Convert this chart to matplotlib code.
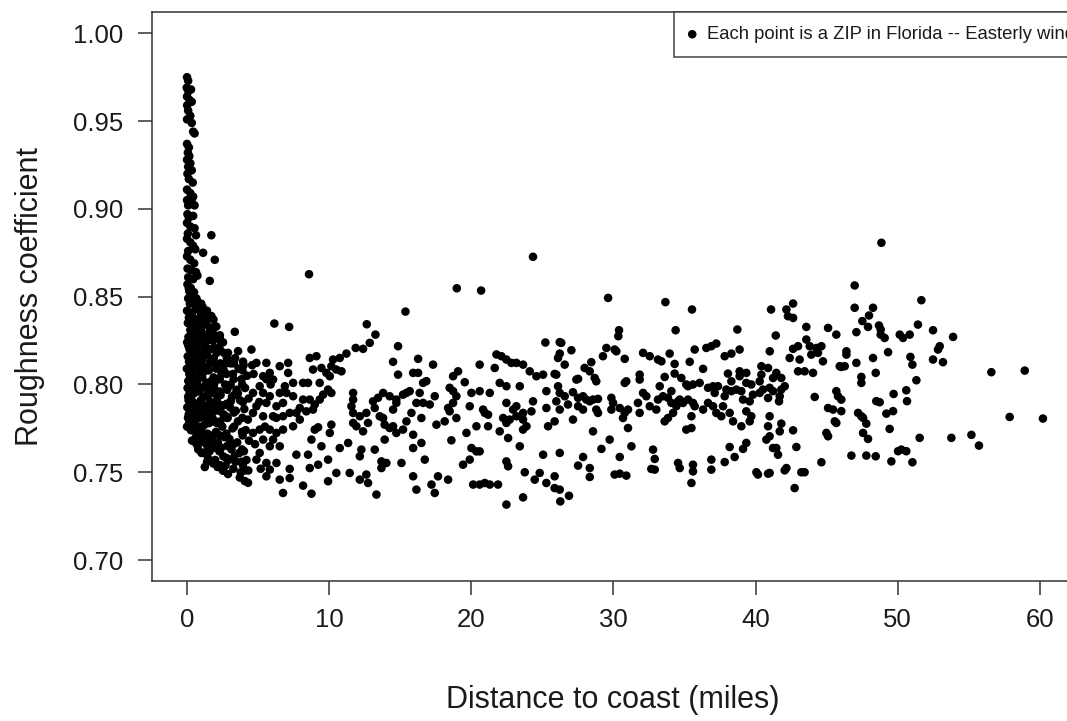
import numpy as np
import matplotlib
matplotlib.use('Agg')
import matplotlib.pyplot as plt

# (distance to coast in miles, roughness coefficient)
# narrow spike right on the coast
spike = np.array([
    (0.02,0.975),(0.10,0.973),(0.00,0.969),(0.12,0.967),(0.30,0.968),(0.02,0.964),(0.20,0.962),
    (0.35,0.961),(0.03,0.959),(0.10,0.956),(0.25,0.953),(0.02,0.951),(0.35,0.949),(0.45,0.944),
    (0.55,0.943),(0.02,0.937),(0.15,0.935),(0.08,0.932),(0.18,0.930),(0.02,0.928),(0.25,0.926),
    (0.10,0.924),(0.35,0.922),(0.05,0.920),(0.15,0.917),(0.42,0.915),(0.02,0.911),(0.25,0.909),
    (0.45,0.907),(0.02,0.905),(0.35,0.904),(0.10,0.902),(0.55,0.902),(0.05,0.897),(0.15,0.895),
    (0.45,0.896),(0.02,0.892),(0.25,0.890),(0.55,0.889),(0.08,0.886),(0.65,0.885),(0.02,0.883),
    (0.25,0.881),(0.45,0.879),(0.10,0.876),(0.60,0.877),(0.02,0.873),(0.25,0.871),(0.52,0.869),
    (0.06,0.866),(0.35,0.865),(0.65,0.864),(0.10,0.861),(0.45,0.860),(0.75,0.862),
    (1.73,0.885),(1.15,0.875),(1.97,0.871),(1.62,0.859),
])

# dense cloud 0 - 4.4 miles
coastal = np.array([
    (0.05,0.857),(0.18,0.853),(0.10,0.849),(0.22,0.846),(0.02,0.842),(0.15,0.838),(0.08,0.835),
    (0.25,0.831),(0.12,0.827),(0.03,0.824),(0.20,0.820),(0.07,0.816),(0.16,0.813),(0.01,0.809),
    (0.24,0.805),(0.11,0.802),(0.06,0.798),(0.19,0.794),(0.13,0.791),(0.04,0.787),(0.22,0.784),
    (0.09,0.781),(0.17,0.778),(0.02,0.776),(0.14,0.783),(0.21,0.795),
    (0.42,0.851),(0.55,0.846),(0.38,0.841),(0.61,0.837),(0.47,0.832),(0.36,0.828),(0.58,0.823),
    (0.44,0.818),(0.63,0.814),(0.50,0.809),(0.39,0.805),(0.57,0.800),(0.45,0.796),(0.35,0.791),
    (0.60,0.787),(0.48,0.782),(0.53,0.778),(0.41,0.774),(0.64,0.770),(0.37,0.768),(0.52,0.795),
    (0.46,0.826),
    (0.78,0.847),(0.92,0.842),(0.71,0.837),(0.85,0.832),(0.97,0.827),(0.74,0.822),(0.88,0.817),
    (0.80,0.812),(0.95,0.806),(0.72,0.801),(0.86,0.796),(0.99,0.791),(0.76,0.786),(0.90,0.781),
    (0.83,0.776),(0.73,0.771),(0.94,0.767),(0.81,0.763),(0.87,0.808),(0.77,0.829),
    (1.12,0.844),(1.30,0.838),(1.06,0.833),(1.22,0.827),(1.38,0.821),(1.15,0.816),(1.27,0.810),
    (1.09,0.804),(1.35,0.799),(1.19,0.793),(1.05,0.788),(1.32,0.782),(1.24,0.777),(1.10,0.771),
    (1.37,0.766),(1.17,0.761),(1.29,0.799),(1.08,0.814),
    (1.52,0.838),(1.70,0.832),(1.47,0.826),(1.63,0.820),(1.80,0.814),(1.55,0.808),(1.74,0.802),
    (1.49,0.796),(1.66,0.790),(1.83,0.784),(1.58,0.778),(1.45,0.772),(1.77,0.767),(1.61,0.762),
    (1.50,0.758),(1.72,0.795),(1.85,0.825),
    (1.95,0.833),(2.15,0.827),(2.28,0.821),(1.90,0.815),(2.08,0.809),(2.22,0.803),(1.98,0.797),
    (2.12,0.791),(2.26,0.785),(1.93,0.779),(2.05,0.773),(2.19,0.767),(2.30,0.762),(2.00,0.757),
    (2.17,0.753),(1.92,0.800),
    (2.40,0.824),(2.62,0.818),(2.78,0.812),(2.45,0.806),(2.70,0.800),(2.38,0.794),(2.55,0.788),
    (2.75,0.782),(2.50,0.776),(2.66,0.770),(2.42,0.764),(2.58,0.759),(2.73,0.754),(2.47,0.788),
    (2.55,0.751),
    (2.90,0.818),(3.10,0.812),(3.25,0.806),(2.95,0.799),(3.18,0.793),(3.05,0.787),(2.88,0.781),
    (3.22,0.775),(3.00,0.769),(3.15,0.763),(2.92,0.757),(3.28,0.752),(3.08,0.800),
    (3.40,0.815),(3.65,0.809),(3.85,0.803),(3.50,0.797),(3.75,0.791),(3.45,0.785),(3.60,0.779),
    (3.88,0.773),(3.55,0.767),(3.70,0.761),(3.42,0.756),(3.80,0.750),(3.73,0.747),
    (4.00,0.811),(4.25,0.805),(4.10,0.798),(4.35,0.792),(4.05,0.786),(4.30,0.780),(4.15,0.774),
    (4.38,0.768),(4.02,0.762),(4.20,0.757),(4.33,0.751),(4.08,0.745),
    (1.27,0.753),(2.55,0.751),(2.90,0.749),(3.84,0.756),(4.08,0.751),(4.31,0.744),(3.38,0.830),
    (2.08,0.833),(2.32,0.827),(2.55,0.824),(3.61,0.819),(3.96,0.813),(1.15,0.842),(1.73,0.839),
])

# more points of the same cloud, between the ones above
coastal_more = np.array([
    (0.28,0.855),(0.31,0.848),(0.27,0.840),(0.33,0.833),(0.29,0.826),(0.32,0.818),(0.26,0.811),
    (0.30,0.803),(0.34,0.796),(0.28,0.789),(0.31,0.781),(0.29,0.774),
    (0.68,0.849),(0.66,0.843),(0.70,0.835),(0.67,0.827),(0.69,0.820),(0.65,0.812),(0.70,0.804),
    (0.66,0.797),(0.68,0.789),(0.71,0.782),(0.67,0.774),(0.69,0.766),
    (1.02,0.846),(0.99,0.839),(1.03,0.830),(1.00,0.823),(1.04,0.814),(0.98,0.806),(1.02,0.798),
    (1.01,0.790),(0.97,0.783),(1.03,0.775),(1.00,0.768),(1.04,0.761),
    (1.42,0.842),(1.40,0.834),(1.44,0.825),(1.41,0.817),(1.43,0.809),(1.39,0.801),(1.45,0.793),
    (1.42,0.786),(1.40,0.779),(1.44,0.770),(1.41,0.762),(1.43,0.756),
    (1.88,0.837),(1.86,0.829),(1.90,0.821),(1.87,0.812),(1.89,0.804),(1.85,0.796),(1.91,0.788),
    (1.88,0.780),(1.86,0.771),(1.90,0.764),(1.87,0.755),
    (2.33,0.828),(2.31,0.820),(2.35,0.812),(2.32,0.803),(2.34,0.796),(2.30,0.786),(2.36,0.779),
    (2.33,0.771),(2.31,0.762),(2.35,0.754),
    (2.82,0.815),(2.80,0.806),(2.84,0.797),(2.81,0.789),(2.83,0.781),(2.79,0.772),(2.85,0.765),
    (2.82,0.758),
    (3.32,0.812),(3.30,0.803),(3.34,0.794),(3.31,0.784),(3.33,0.776),(3.29,0.766),(3.35,0.759),
    (3.92,0.808),(3.90,0.800),(3.94,0.790),(3.91,0.781),(3.93,0.771),(3.89,0.763),(3.95,0.754),
    (4.70,0.806),(5.10,0.790),(5.50,0.776),(4.80,0.766),(5.90,0.800),(6.30,0.781),(5.20,0.752),
    (6.90,0.799),(4.60,0.811),(5.60,0.803),
    (0.15,0.8545),(0.52,0.8525),(0.88,0.8445),(0.20,0.8385),(0.55,0.8340),(0.90,0.8285),
    (0.12,0.8220),(0.50,0.8160),(0.85,0.8100),(0.18,0.8060),(0.45,0.8020),(0.80,0.7990),
    (0.10,0.7930),(0.55,0.7885),(0.92,0.7850),(0.20,0.7800),(0.58,0.7745),(0.85,0.7700),
    (1.20,0.8350),(1.25,0.8195),(1.18,0.8070),(1.22,0.7880),(1.25,0.7715),(1.60,0.8300),
    (1.65,0.8130),(1.62,0.7990),(1.60,0.7830),(1.65,0.7680),(2.10,0.8180),(2.05,0.7945),
    (2.12,0.7780),(2.60,0.8080),(2.58,0.7830),(3.10,0.7905),(3.60,0.7950),
])

# 4.4 - 25.5 miles
inland = np.array([
    (8.60,0.8628),(24.35,0.8727),(18.99,0.8548),(20.70,0.8535),(15.38,0.8415),(6.16,0.8347),
    (7.20,0.8328),(12.66,0.8343),(13.27,0.8284),(25.22,0.8239),(14.86,0.8218),(12.87,0.8237),
    (12.40,0.8203),(11.88,0.8208),(11.23,0.8176),(10.76,0.8151),(10.29,0.8142),(9.12,0.8161),
    (8.65,0.8151),(8.88,0.8085),(9.47,0.8094),(9.82,0.8066),(10.17,0.8104),(10.52,0.8085),
    (10.88,0.8075),(10.06,0.8047),(9.94,0.7971),(10.17,0.7952),(9.59,0.7942),(9.35,0.7914),
    (9.00,0.7886),(8.65,0.7914),(8.18,0.7914),(7.95,0.7866),(8.41,0.7847),(8.88,0.7857),
    (8.53,0.8009),(8.18,0.8009),(9.35,0.8009),(7.48,0.8009),(7.13,0.8066),(7.13,0.8123),
    (6.54,0.8104),(5.60,0.8123),(4.90,0.8123),(4.55,0.8199),(5.84,0.8066),(5.37,0.8047),
    (6.07,0.8028),(5.13,0.7990),(4.66,0.7952),(5.37,0.7952),(5.84,0.7933),(6.54,0.7952),
    (7.01,0.7952),(7.48,0.7933),(6.77,0.7895),(6.31,0.7876),(5.60,0.7895),(4.90,0.7876),
    (4.66,0.7838),(5.37,0.7819),(6.07,0.7819),(6.77,0.7819),(7.24,0.7838),(7.71,0.7838),
    (7.95,0.7800),(7.48,0.7762),(6.77,0.7743),(6.31,0.7724),(5.84,0.7743),(5.13,0.7743),
    (4.66,0.7724),(5.37,0.7686),(6.07,0.7686),(6.54,0.7648),(5.84,0.7648),(5.13,0.7610),
    (4.90,0.7572),(5.60,0.7553),(6.31,0.7553),(5.84,0.7515),(5.60,0.7477),(6.54,0.7458),
    (7.24,0.7467),(6.77,0.7382),(8.18,0.7424),(8.77,0.7378),(7.24,0.7519),(7.71,0.7600),
    (8.53,0.7600),(8.65,0.7524),(9.24,0.7543),(9.94,0.7572),(9.00,0.7743),(8.77,0.7686),
    (9.47,0.7648),(10.06,0.7724),(10.17,0.7771),(9.24,0.7756),(10.76,0.7638),(11.35,0.7667),
    (10.52,0.7496),(11.46,0.7496),(9.94,0.7449),(12.17,0.7458),(12.75,0.7439),(13.34,0.7373),
    (12.63,0.7487),(12.17,0.7591),(12.28,0.7629),(13.22,0.7629),(13.69,0.7562),(14.04,0.7553),
    (13.69,0.7524),(15.10,0.7553),(14.74,0.7724),(13.92,0.7686),(14.27,0.7752),(13.92,0.7771),
    (14.51,0.7762),(15.45,0.7790),(15.21,0.7743),(15.92,0.7714),(16.50,0.7667),(15.92,0.7638),
    (16.74,0.7572),(15.92,0.7477),(16.15,0.7401),(17.21,0.7430),(17.44,0.7382),(17.67,0.7477),
    (18.38,0.7458),(19.43,0.7543),(19.90,0.7572),(20.14,0.7430),(20.60,0.7430),(20.96,0.7439),
    (21.31,0.7430),(21.89,0.7430),(22.48,0.7316),(23.65,0.7357),(23.77,0.7500),(24.47,0.7458),
    (24.82,0.7496),(25.29,0.7439),(25.06,0.7600),(23.42,0.7648),(22.60,0.7695),(22.48,0.7562),
    (22.60,0.7534),(20.02,0.7638),(20.37,0.7619),(20.60,0.7619),(18.61,0.7682),(19.67,0.7724),
    (20.37,0.7762),(21.19,0.7762),(22.01,0.7733),(22.48,0.7781),(22.71,0.7800),(23.18,0.7819),
    (23.65,0.7800),(23.89,0.7762),(23.65,0.7743),(22.25,0.7809),(22.95,0.7857),(23.18,0.7876),
    (22.48,0.7895),(23.65,0.7838),(24.35,0.7904),(24.24,0.7847),(25.29,0.7866),(25.29,0.7962),
    (25.41,0.7762),(25.06,0.8056),(24.59,0.8047),(24.12,0.8075),(23.65,0.8113),(23.18,0.8123),
    (22.83,0.8123),(22.48,0.8142),(22.13,0.8161),(21.78,0.8171),(21.66,0.8094),(22.01,0.8009),
    (22.48,0.7990),(23.42,0.7990),(21.31,0.7952),(20.60,0.7962),(20.02,0.7952),(19.90,0.7876),
    (20.84,0.7857),(20.96,0.7838),(21.19,0.7828),(20.60,0.8113),(19.55,0.8013),(19.08,0.8075),
    (18.73,0.8047),(18.49,0.7981),(18.73,0.7962),(18.96,0.7933),(18.38,0.7866),(18.73,0.7895),
    (18.96,0.7809),(17.44,0.7933),(17.09,0.7886),(16.62,0.7895),(16.15,0.7895),(16.38,0.7952),
    (16.85,0.8019),(16.62,0.8009),(16.27,0.8066),(15.92,0.8066),(15.45,0.7952),(15.68,0.7962),
    (15.21,0.7942),(14.74,0.7914),(14.27,0.7933),(13.81,0.7952),(13.45,0.7924),(13.10,0.7904),
    (13.22,0.7866),(12.63,0.7838),(12.17,0.7819),(11.70,0.7838),(11.70,0.7914),(11.70,0.7952),
    (11.58,0.7876),(11.70,0.7781),(11.93,0.7762),(12.40,0.7733),(12.75,0.7781),(13.57,0.7819),
    (13.81,0.7809),(14.51,0.7857),(14.74,0.7895),(14.86,0.8056),(14.51,0.8129),(16.27,0.8146),
    (17.32,0.8113),(15.80,0.7838),(16.50,0.7809),(17.56,0.7771),(18.14,0.7790),(18.49,0.7847),
])

# 25.5 - 46 miles
central = np.array([
    (29.63,0.8493),(33.66,0.8469),(35.53,0.8427),(41.09,0.8427),(42.17,0.8427),(42.64,0.8461),
    (42.28,0.8389),(42.64,0.8379),(43.57,0.8328),(45.10,0.8322),(45.68,0.8284),(41.42,0.8279),
    (30.40,0.8309),(30.35,0.8275),(34.38,0.8309),(38.72,0.8313),(26.23,0.8241),(26.34,0.8237),
    (27.05,0.8195),(26.23,0.8176),(26.11,0.8151),(26.58,0.8113),(28.45,0.8127),(27.98,0.8094),
    (28.34,0.8075),(28.69,0.8037),(28.80,0.8018),(29.27,0.8161),(29.51,0.8208),(30.09,0.8199),
    (30.21,0.8189),(30.80,0.8146),(32.09,0.8180),(32.56,0.8161),(33.14,0.8142),(33.38,0.8132),
    (33.96,0.8176),(34.31,0.8117),(35.37,0.8129),(35.72,0.8199),(36.54,0.8208),(36.89,0.8218),
    (37.24,0.8233),(37.83,0.8161),(38.30,0.8176),(38.88,0.8199),(41.00,0.8189),(42.64,0.8203),
    (42.99,0.8218),(43.57,0.8256),(43.81,0.8218),(44.28,0.8208),(44.63,0.8218),(44.39,0.8180),
    (43.92,0.8170),(43.10,0.8142),(42.40,0.8151),(44.74,0.8132),(42.99,0.8075),(43.45,0.8075),
    (44.04,0.8066),(40.88,0.8094),(40.41,0.8104),(41.46,0.8066),(40.41,0.8056),(41.23,0.8037),
    (41.81,0.8037),(42.05,0.7990),(41.81,0.7971),(41.70,0.7933),(41.65,0.7904),(40.88,0.7923),
    (40.29,0.8018),(39.70,0.8000),(38.88,0.8075),(39.35,0.8066),(38.88,0.8047),(39.35,0.8009),
    (38.06,0.8062),(36.31,0.8089),(35.25,0.7990),(34.78,0.8037),(34.31,0.8062),(33.61,0.8043),
    (33.26,0.7990),(31.85,0.8056),(31.85,0.8028),(30.80,0.8009),(30.91,0.8018),(27.40,0.8028),
    (27.52,0.8032),(25.87,0.8060),(25.99,0.8056),(26.11,0.7990),(26.23,0.7952),(25.99,0.7904),
    (26.58,0.7933),(27.16,0.7956),(27.52,0.7924),(27.87,0.7933),(28.10,0.7914),(28.34,0.7904),
    (28.57,0.7914),(28.92,0.7918),(28.80,0.7857),(28.92,0.7838),(27.87,0.7857),(27.52,0.7876),
    (26.81,0.7886),(26.23,0.7857),(27.16,0.7800),(25.87,0.7790),(29.86,0.7924),(29.98,0.7895),
    (29.86,0.7857),(30.45,0.7866),(30.80,0.7838),(31.03,0.7857),(30.68,0.7809),(31.73,0.7895),
    (31.85,0.7838),(32.09,0.7952),(32.32,0.7933),(32.56,0.7876),(33.02,0.7857),(33.14,0.7914),
    (33.49,0.7933),(33.84,0.7924),(34.08,0.7895),(34.43,0.7876),(34.20,0.7838),(33.84,0.7809),
    (33.61,0.7790),(34.55,0.7904),(34.90,0.7895),(35.25,0.7914),(35.60,0.7895),(35.72,0.7876),
    (35.49,0.7819),(36.31,0.7857),(36.66,0.7895),(37.01,0.7876),(37.24,0.7838),(37.59,0.7819),
    (37.71,0.7876),(37.83,0.7933),(37.95,0.7971),(38.30,0.7962),(38.65,0.7971),(39.00,0.7962),
    (39.12,0.7914),(39.59,0.7904),(39.82,0.7942),(40.29,0.7952),(40.52,0.7971),(40.99,0.7981),
    (41.23,0.7962),(39.35,0.7847),(39.70,0.7819),(39.59,0.7790),(39.00,0.7762),(38.42,0.7790),
    (38.18,0.7838),(36.66,0.7981),(37.01,0.7990),(37.36,0.7990),(36.07,0.8009),(35.60,0.8000),
    (35.13,0.8000),(34.67,0.7914),(34.08,0.7962),(37.13,0.7952),(38.30,0.8018),(28.57,0.7733),
    (29.74,0.7686),(29.16,0.7633),(27.87,0.7587),(27.52,0.7538),(28.34,0.7524),(28.34,0.7473),
    (26.23,0.7610),(25.87,0.7477),(25.87,0.7410),(26.23,0.7401),(26.27,0.7334),(26.88,0.7366),
    (31.27,0.7648),(31.03,0.7752),(30.45,0.7587),(30.09,0.7487),(30.45,0.7492),(30.91,0.7481),
    (32.79,0.7629),(32.91,0.7576),(32.67,0.7519),(32.91,0.7515),(34.55,0.7553),(34.67,0.7524),
    (35.60,0.7543),(35.60,0.7505),(35.49,0.7439),(35.13,0.7743),(35.49,0.7752),(36.89,0.7572),
    (36.89,0.7515),(38.18,0.7644),(37.83,0.7558),(38.53,0.7587),(39.12,0.7633),(39.35,0.7667),
    (40.06,0.7500),(40.17,0.7487),(40.88,0.7492),(40.99,0.7496),(42.05,0.7511),(42.17,0.7524),
    (43.22,0.7500),(43.45,0.7500),(42.75,0.7410),(44.63,0.7557),(42.87,0.7644),(42.64,0.7739),
    (41.70,0.7733),(41.81,0.7777),(41.46,0.7638),(41.58,0.7600),(41.23,0.7638),(40.99,0.7705),
    (40.76,0.7686),(40.88,0.7762),(40.99,0.7819),(44.98,0.7724),(45.10,0.7705),(45.10,0.7866),
    (45.45,0.7857),(45.57,0.7790),(45.68,0.7781),(45.80,0.7933),(45.68,0.7962),(44.16,0.7929),
    (45.92,0.8104),
])

# beyond 46 miles
interior = np.array([
    (48.85,0.8807),(46.97,0.8564),(51.66,0.8480),(46.97,0.8437),(48.26,0.8437),(47.98,0.8393),
    (47.51,0.8361),(47.91,0.8328),(48.68,0.8336),(48.80,0.8313),(47.09,0.8298),(48.80,0.8284),
    (49.08,0.8265),(50.14,0.8284),(50.37,0.8265),(50.84,0.8284),(51.42,0.8341),(52.48,0.8309),
    (53.89,0.8271),(52.95,0.8218),(52.83,0.8199),(52.48,0.8142),(53.18,0.8127),(49.32,0.8184),
    (48.26,0.8151),(50.89,0.8157),(51.03,0.8113),(51.31,0.8024),(47.09,0.8123),(46.39,0.8189),
    (46.39,0.8170),(46.27,0.8104),(46.03,0.8100),(47.44,0.8043),(47.44,0.8009),(48.45,0.8066),
    (49.71,0.7946),(50.60,0.7967),(50.65,0.7905),(48.49,0.7905),(48.73,0.7899),(49.20,0.7834),
    (49.67,0.7848),(47.21,0.7838),(47.44,0.7819),(47.56,0.7810),(47.79,0.7777),(49.43,0.7747),
    (47.56,0.7724),(47.91,0.7690),(46.74,0.7595),(47.79,0.7595),(48.45,0.7591),(50.02,0.7620),
    (50.25,0.7629),(50.60,0.7620),(49.55,0.7562),(51.03,0.7557),(51.54,0.7696),(53.77,0.7696),
    (55.18,0.7713),(55.71,0.7652),(56.58,0.8070),(58.93,0.8079),(57.87,0.7815),(60.21,0.7806),
    (46.03,0.7914),(46.03,0.7848),
])

x_ticks = [0, 10, 20, 30, 40, 50, 60]
y_ticks = [0.70, 0.75, 0.80, 0.85, 0.90, 0.95, 1.00]
legend_label = 'Each point is a ZIP in Florida -- Easterly wind'

plt.rcParams['font.family'] = ['Liberation Sans', 'DejaVu Sans']
txt = '#1a1a1a'

fig = plt.figure(figsize=(10.67, 7.21), dpi=100)
ax = fig.add_axes([0.1425, 0.194, 0.878, 0.789])

pts = np.vstack([spike, coastal, coastal_more, inland, central, interior])
ax.scatter(pts[:, 0], pts[:, 1], s=38, c='black', edgecolors='none', label=legend_label)

ax.set_xlim(-2.44, 63.44)
ax.set_ylim(0.688, 1.012)
ax.set_xticks(x_ticks)
ax.set_yticks(y_ticks)
ax.set_yticklabels(['%.2f' % v for v in y_ticks])
ax.tick_params(axis='both', direction='out', length=10, width=1.1, color='#333333',
               labelsize=18.5, labelcolor=txt)
ax.tick_params(axis='x', pad=9)
ax.tick_params(axis='y', pad=11)
for sp in ax.spines.values():
    sp.set_color('#333333')
    sp.set_linewidth(1.1)

ax.set_xlabel('Distance to coast (miles)', fontsize=22, color=txt)
ax.set_ylabel('Roughness coefficient', fontsize=22, color=txt)
ax.xaxis.label.set_va('center')
ax.yaxis.label.set_va('center')
ax.xaxis.set_label_coords(0.492, -0.209)
ax.yaxis.set_label_coords(-0.130, 0.5)

# legend is anchored to the top right corner of the box, which lies past the figure edge
leg = ax.legend(loc='upper right', borderaxespad=0, fontsize=13.3, frameon=True,
                fancybox=False, handlelength=0.5, handletextpad=0.55, borderpad=0.75,
                scatterpoints=1, markerscale=1.0)
leg.get_frame().set_edgecolor('#444444')
leg.get_frame().set_linewidth(1.1)
leg.get_frame().set_alpha(1)
for t in leg.get_texts():
    t.set_color(txt)

plt.savefig('out.png', dpi=100)
